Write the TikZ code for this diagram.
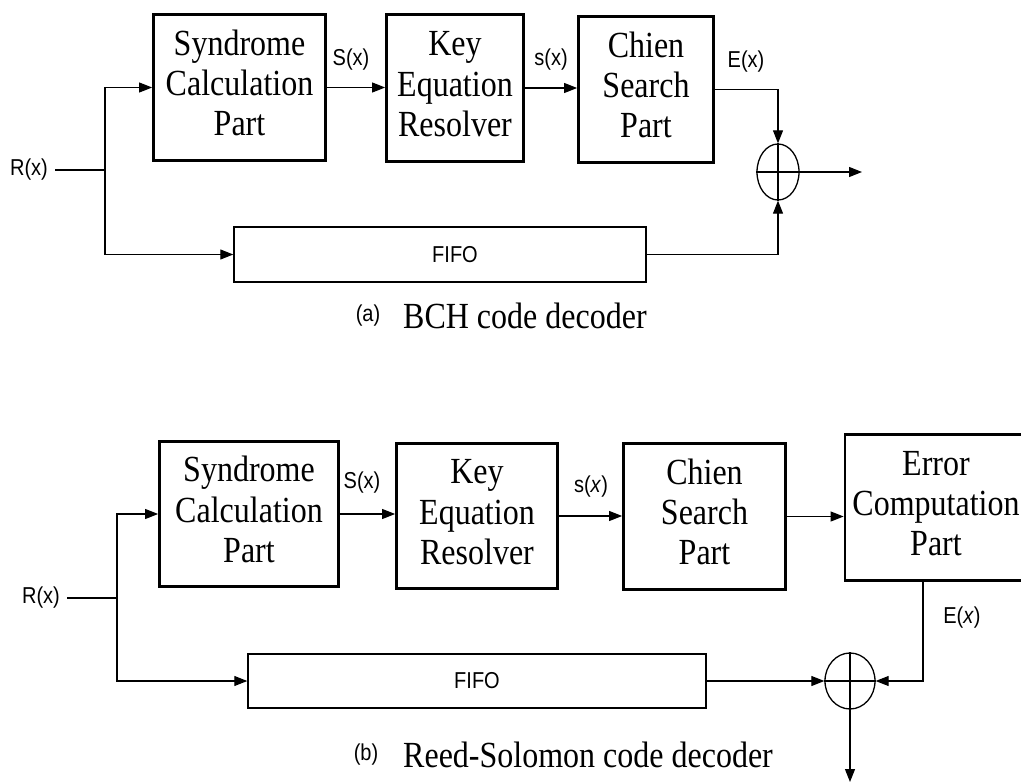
\documentclass[tikz,border=0pt]{standalone}
\usepackage{fontspec}
\usepackage{graphicx}
\setmainfont{Liberation Serif}
\setsansfont{Liberation Sans}
\usetikzlibrary{arrows.meta,shapes.geometric}
\newcommand{\vs}[1]{\scalebox{1}[1.15]{#1}}
\newcommand{\btxt}[1]{\vs{\fontsize{32}{35}\selectfont\begin{tabular}{@{}c@{}}#1\end{tabular}}}
\newcommand{\stxt}[1]{\vs{\sffamily\fontsize{20}{22}\selectfont #1}}
\newcommand{\ctxt}[1]{\vs{\fontsize{32}{35}\selectfont #1}}
\begin{document}
\begin{tikzpicture}[x=1pt,y=-1pt,
  blk/.style={draw, line width=2.8pt, inner sep=0pt, rectangle},
  fifobox/.style={draw, line width=1.4pt, inner sep=0pt, rectangle},
  sumn/.style={draw, ellipse, line width=1.3pt, inner sep=0pt},
  lbl/.style={inner sep=0pt},
  conn/.style={line width=1.1pt},
  arr/.style={conn, -{Triangle[length=13pt,width=10pt]}}]
\fill[white] (0,0) rectangle (1021,784);
\clip (0,0) rectangle (1021,784);

% ---------- (a) BCH ----------
\node[blk, minimum width=172pt, minimum height=146pt] (syn1) at (239.5,87.5) {\btxt{Syndrome\\Calculation\\Part}};
\node[blk, minimum width=137pt, minimum height=147pt] (key1) at (455,88) {\btxt{Key\\Equation\\Resolver}};
\node[blk, minimum width=135pt, minimum height=146pt] (chien1) at (646,89.5) {\btxt{Chien\\Search\\Part}};
\node[fifobox, minimum width=412pt, minimum height=55pt] (fifo1) at (440,254.5) {\hspace*{30pt}\stxt{FIFO}};
\node[sumn, minimum width=42pt, minimum height=56pt] (sum1) at (778,172) {};
\draw[conn] (sum1.north) -- (sum1.south) (sum1.west) -- (sum1.east);

\node[lbl] (r1) at (29,170) {\stxt{R(x)}};
\coordinate (b1) at (105,170);
\coordinate (out1) at (862,172);
\draw[conn, shorten <=7pt] (r1.east) -- (b1);
\draw[arr] (b1) |- (syn1.west);
\draw[arr] (b1) |- (fifo1.west);
\draw[arr] (syn1.east) -- (syn1.east -| key1.west);
\draw[arr] (key1.east) -- (key1.east -| chien1.west);
\draw[arr] (chien1.east) -| (sum1.north);
\draw[arr] (fifo1.east) -| (sum1.south);
\draw[arr] (sum1.east) -- (out1);

\node[lbl] (lS1) at (351,60) {\stxt{S(x)}};
\node[lbl] (ls1) at (551,60) {\stxt{s(x)}};
\node[lbl] (lE1) at (746,62) {\stxt{E(x)}};

\node[lbl] (capa) at (368,316) {\stxt{(a)}};
\node[lbl, anchor=west] (capat) at (403,316) {\ctxt{BCH code decoder}};

% ---------- (b) Reed-Solomon ----------
\node[blk, minimum width=179pt, minimum height=145pt] (syn2) at (249,514) {\btxt{Syndrome\\Calculation\\Part}};
\node[blk, minimum width=161pt, minimum height=145pt] (key2) at (477,516) {\btxt{Key\\Equation\\Resolver}};
\node[blk, minimum width=162pt, minimum height=146pt] (chien2) at (704.5,516.5) {\btxt{Chien\\Search\\Part}};
\node[blk, minimum width=202pt, minimum height=146pt] (err2) at (946,507.5) {\btxt{Error\\Computation\\Part}\hspace*{20pt}};
\node[fifobox, minimum width=458pt, minimum height=54pt] (fifo2) at (477,681) {\stxt{FIFO}};
\node[sumn, minimum width=50pt, minimum height=56pt] (sum2) at (850,681) {};
\draw[conn] (sum2.north) -- (sum2.south) (sum2.west) -- (sum2.east);

\node[lbl] (r2) at (41,598) {\stxt{R(x)}};
\coordinate (b2) at (117,598);
\coordinate (out2) at (850,782);
\draw[conn, shorten <=7pt] (r2.east) -- (b2);
\draw[arr] (b2) |- (syn2.west);
\draw[arr] (b2) |- (fifo2.west);
\draw[arr] (syn2.east) -- (syn2.east -| key2.west);
\draw[arr] (key2.east) -- (key2.east -| chien2.west);
\draw[arr] (chien2.east) -- (chien2.east -| err2.west);
\draw[arr] ([xshift=-23pt]err2.south) |- (sum2.east);
\draw[arr] (fifo2.east) -- (sum2.west);
\draw[arr] (sum2.south) -- (out2);

\node[lbl] (lS2) at (362,483) {\stxt{S(x)}};
\node[lbl] (ls2) at (591,487) {\stxt{s(\textit{x})}};
\node[lbl] (lE2) at (962,618) {\stxt{E(\textit{x})}};

\node[lbl] (capb) at (366,755) {\stxt{(b)}};
\node[lbl, anchor=west] (capbt) at (403,755) {\ctxt{Reed-Solomon code decoder}};
\end{tikzpicture}
\end{document}
